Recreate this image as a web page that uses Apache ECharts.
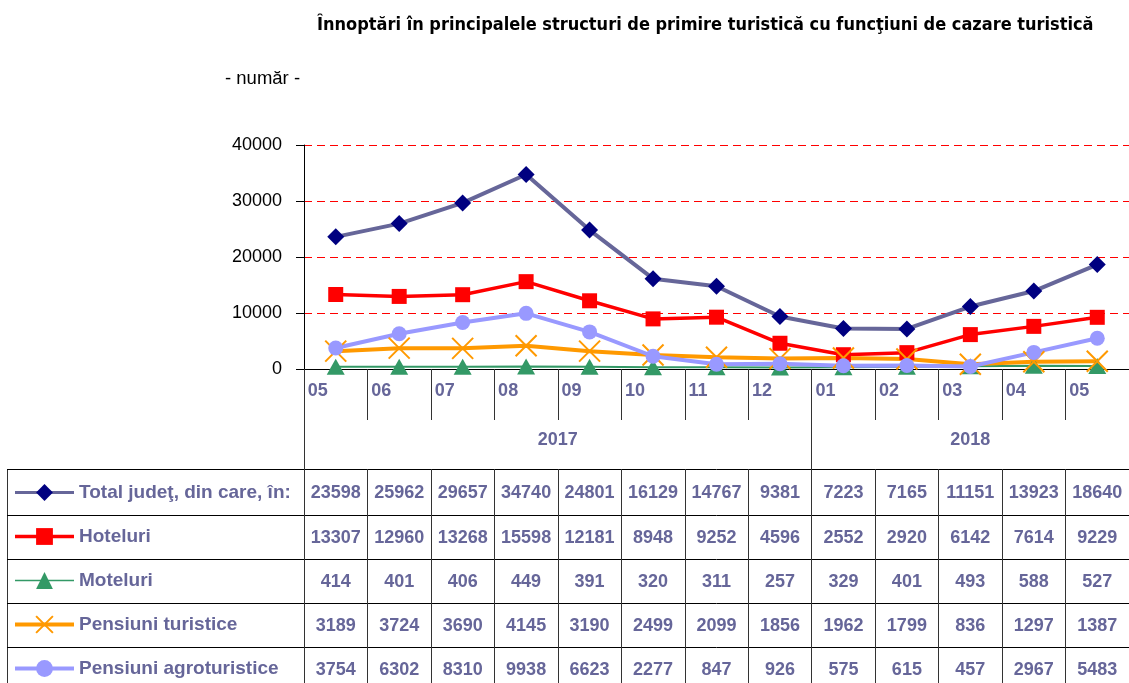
<!DOCTYPE html>
<html><head><meta charset="utf-8">
<script src="https://cdn.jsdelivr.net/npm/echarts@6/dist/echarts.min.js"></script>
<style>html,body{margin:0;padding:0;background:#fff}#c{width:1129px;height:683px}</style>
</head><body><div id="c"></div>
<script>
const months = ['05','06','07','08','09','10','11','12','01','02','03','04','05'];
const years = ['2017','2018'];
const yearSpans = [8,5];
const seriesNames = ['Total judeţ, din care, în:','Hoteluri','Moteluri','Pensiuni turistice','Pensiuni agroturistice'];
const total = [23598,25962,29657,34740,24801,16129,14767,9381,7223,7165,11151,13923,18640];
const hoteluri = [13307,12960,13268,15598,12181,8948,9252,4596,2552,2920,6142,7614,9229];
const moteluri = [414,401,406,449,391,320,311,257,329,401,493,588,527];
const pensiuni = [3189,3724,3690,4145,3190,2499,2099,1856,1962,1799,836,1297,1387];
const agro = [3754,6302,8310,9938,6623,2277,847,926,575,615,457,2967,5483];
const yTicks = [0,10000,20000,30000,40000];

const COND = "'DejaVu Sans Condensed','Liberation Sans Narrow',sans-serif";
const SANS = "'Liberation Sans',Arial,sans-serif";
const TXT = '#666699';
const values = [total,hoteluri,moteluri,pensiuni,agro];

// table layout (pixels)
const axisY = 369;
const rowTops = [469, 515, 559, 603, 647];
const rowH = [46, 44, 44, 44, 44];

const yearCenters = []; const yearBounds = [0];
let acc = 0;
yearSpans.forEach(s => { yearCenters.push(acc + s/2); acc += s; yearBounds.push(acc); });

const xAxes = [
  { type:'category', data: months, gridIndex:0, position:'bottom', boundaryGap:true, z:3,
    axisLine:{show:true, lineStyle:{color:'#000', width:1}},
    axisTick:{show:true, interval:0, length:51, lineStyle:{color:'#333'}},
    axisLabel:{interval:0, margin:13, formatter: v => '{m|'+v+'}',
      rich:{m:{width:56, align:'left', fontFamily:SANS, fontWeight:'bold', fontSize:18, color:TXT}}},
    splitLine:{show:false} },
  { type:'value', min:0, max:months.length, gridIndex:0, position:'bottom', offset:51,
    axisLine:{show:false},
    axisTick:{show:true, customValues: yearBounds.slice(0, -1), length:49, lineStyle:{color:'#333'}},
    axisLabel:{customValues: yearCenters, margin:11,
      formatter: v => years[yearCenters.indexOf(v)] || '',
      fontFamily:SANS, fontWeight:'bold', fontSize:18, color:TXT},
    splitLine:{show:false} }
];
values.forEach((arr, i) => {
  xAxes.push({ type:'category', data: arr.map(String), gridIndex:0, position:'bottom',
    offset: rowTops[i] - axisY, boundaryGap:true,
    axisLine:{show:true, lineStyle:{color:'#000', width:1}},
    axisTick:{show:true, interval:0, length:rowH[i], lineStyle:{color:'#333'}},
    axisLabel:{interval:0, margin: rowH[i]/2 - 8, fontFamily:SANS, fontWeight:'bold', fontSize:18, color:TXT},
    splitLine:{show:false} });
});

const styles = [
  {symbol:'diamond', symbolSize:17, itemStyle:{color:'#000080'}, lineStyle:{color:'#666699', width:4}},
  {symbol:'rect', symbolSize:15, itemStyle:{color:'#FF0000'}, lineStyle:{color:'#FF0000', width:3.5}},
  {symbol:'triangle', symbolSize:[18,16], itemStyle:{color:'#339966'}, lineStyle:{color:'#339966', width:2}},
  {symbol:'path://M0,0L20,20M20,0L0,20', symbolSize:21, itemStyle:{color:'rgba(0,0,0,0)', borderColor:'#FF9900', borderWidth:2}, lineStyle:{color:'#FF9900', width:4}},
  {symbol:'circle', symbolSize:15, itemStyle:{color:'#9999FF'}, lineStyle:{color:'#9999FF', width:4}}
];
const legendLineW = [3, 3.5, 1.5, 4, 4];

const series = values.map((arr, i) => Object.assign({
  name: seriesNames[i], type:'line', data: arr, xAxisIndex:0, yAxisIndex:0,
  showSymbol:true, animation:false, emphasis:{disabled:true}
}, styles[i]));
// red dashed gridlines, placed through the y scale
series[0].markLine = {
  silent:true, symbol:'none', animation:false, z:0,
  label:{show:false},
  lineStyle:{color:'#FF0000', type:[8,5], width:1},
  data: yTicks.filter(v => v > 0).map(v => ({yAxis: v}))
};

const graphics = [{type:'line', shape:{x1:7.5, y1:rowTops[0], x2:7.5, y2:683}, style:{stroke:'#333', lineWidth:1}}];
rowTops.forEach(y => graphics.push({type:'line', shape:{x1:7, y1:y+0.5, x2:304, y2:y+0.5}, style:{stroke:'#000', lineWidth:1}}));

const chart = echarts.init(document.getElementById('c'), null, {renderer:'canvas'});
chart.setOption({
  animation:false,
  title:[
    {text:'Înnoptări în principalele structuri de primire turistică cu funcţiuni de cazare turistică',
     left:317, top:16, padding:0, textStyle:{fontFamily:COND, fontWeight:'bold', fontSize:18, color:'#000'}},
    {text:'- număr -', left:225, top:69, padding:0, textStyle:{fontFamily:SANS, fontWeight:'normal', fontSize:18.5, color:'#000'}}
  ],
  grid:{left:304, top:145, width:828, height:224, containLabel:false},
  legend:{data: seriesNames.map((n, i) => ({name:n, lineStyle:{width:legendLineW[i]}})),
    orient:'vertical', left:13, top:483, padding:0,
    itemWidth:59, itemHeight:21, itemGap:25, selectedMode:false,
    textStyle:{fontFamily:SANS, fontWeight:'bold', fontSize:19, color:TXT}},
  xAxis: xAxes,
  yAxis:{type:'value', min:yTicks[0], max:yTicks[yTicks.length-1], interval:yTicks[1]-yTicks[0],
    axisLine:{show:true, lineStyle:{color:'#000'}},
    axisTick:{show:true, length:8, lineStyle:{color:'#000'}},
    axisLabel:{margin:22, fontFamily:SANS, fontSize:18, color:'#000', formatter: v => String(v)},
    splitLine:{show:false}},
  graphic: graphics,
  series: series
});
</script></body></html>
